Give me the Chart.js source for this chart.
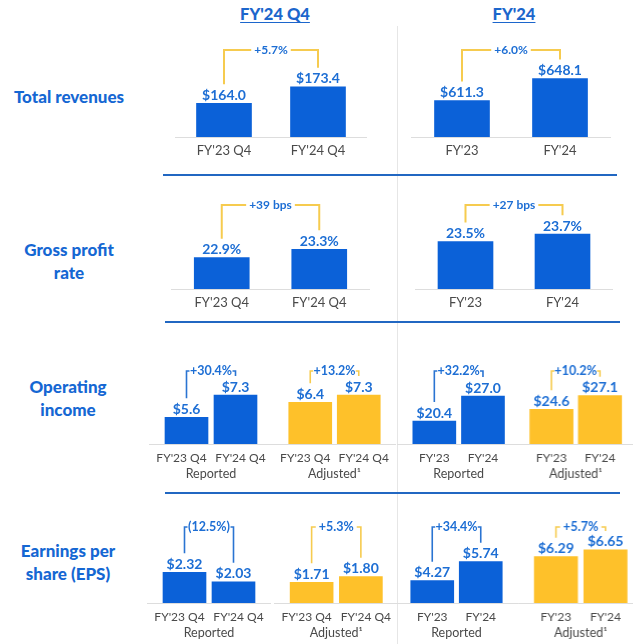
<!DOCTYPE html>
<html>
<head>
<meta charset="utf-8">
<script src="https://cdn.jsdelivr.net/npm/chart.js@4.4.1/dist/chart.umd.min.js"></script>
<style>
  html,body{margin:0;padding:0;background:#fff;}
  body{width:633px;height:644px;position:relative;overflow:hidden;font-family:Lato,"Open Sans",sans-serif;}
  .hdr{position:absolute;top:4px;color:#1c66cc;font-weight:900;font-size:16.5px;text-decoration:underline;text-underline-offset:2px;transform:translateX(-50%);white-space:nowrap;}
  .rowlbl{position:absolute;color:#1567d3;font-weight:900;font-size:17px;line-height:23px;text-align:center;transform:translate(-50%,-50%);white-space:pre;}
  .sep{position:absolute;height:2px;background:#2167c2;}
  .vdiv{position:absolute;left:397px;top:26px;width:1px;height:618px;background:#e6e6e6;}
  .panel{position:absolute;}
</style>
</head>
<body>
<div class="vdiv"></div>
<script>
// ---------------- DATA ----------------
const periodHeaders = ["FY'24 Q4", "FY'24"];
const metricLabels = ["Total revenues", "Gross profit\nrate", "Operating\nincome", "Earnings per\nshare (EPS)"];
const quarterCats = ["FY'23 Q4", "FY'24 Q4"];
const yearCats = ["FY'23", "FY'24"];
const groupLabels = ["Reported", "Adjusted\u00B9"];

const revenueQ4 = [164.0, 173.4];
const revenueFY = [611.3, 648.1];
const grossRateQ4 = [22.9, 23.3];
const grossRateFY = [23.5, 23.7];
const opIncomeQ4Reported = [5.6, 7.3];
const opIncomeQ4Adjusted = [6.4, 7.3];
const opIncomeFYReported = [20.4, 27.0];
const opIncomeFYAdjusted = [24.6, 27.1];
const epsQ4Reported = [2.32, 2.03];
const epsQ4Adjusted = [1.71, 1.80];
const epsFYReported = [4.27, 5.74];
const epsFYAdjusted = [6.29, 6.65];

const revenueChange = ["+5.7%", "+6.0%"];
const grossRateChange = ["+39 bps", "+27 bps"];
const opIncomeChange = ["+30.4%", "+13.2%", "+32.2%", "+10.2%"];
const epsChange = ["(12.5%)", "+5.3%", "+34.4%", "+5.7%"];

// ---------------- STYLE / LAYOUT ----------------
const BLUE = "#0b61d8", YELLOW = "#fec12a";
const LABEL_BLUE = "#1d6ed4", BRACKET_YELLOW = "#f6cb4f", BRACKET_BLUE = "#2a74d2";
const GREY_TEXT = "#4a4a4a";
const FONT = "Lato, 'Open Sans', sans-serif";

const fmt1$ = v => "$" + v.toFixed(1);
const fmt2$ = v => "$" + v.toFixed(2);
const fmtPct = v => v.toFixed(1) + "%";

const rows = [
  {base:137, bracketY:50,  bw:55, catFont:13, chgFont:12,   ext:2,  lw:2},
  {base:289, bracketY:205, bw:55, catFont:13, chgFont:12,   ext:2,  lw:2},
  {base:444, bracketY:371, bw:43, catFont:12, chgFont:12.5, ext:13, lw:1.6},
  {base:603, bracketY:527, bw:43, catFont:12, chgFont:12.5, ext:13, lw:1.6}
];

const panels = [
  {row:0, x0:176.5, x1:364.5, min:145,   max:201.5, values:revenueQ4, cats:quarterCats, change:revenueChange[0], fmt:fmt1$, color:BLUE, bracket:BRACKET_YELLOW},
  {row:0, x0:412.5, x1:608.5, min:550,   max:718,   values:revenueFY, cats:yearCats, change:revenueChange[1], fmt:fmt1$, color:BLUE, bracket:BRACKET_YELLOW},
  {row:1, x0:173.3, x1:368.3, min:21.41, max:26.17, values:grossRateQ4, cats:quarterCats, change:grossRateChange[0], fmt:fmtPct, color:BLUE, bracket:BRACKET_YELLOW},
  {row:1, x0:417,   x1:611,   min:22.22, max:24.92, values:grossRateFY, cats:yearCats, change:grossRateChange[1], fmt:fmtPct, color:BLUE, bracket:BRACKET_YELLOW},
  {row:2, x0:161.8, x1:259.8, min:3.57,  max:11.19, values:opIncomeQ4Reported, cats:quarterCats, change:opIncomeChange[0], fmt:fmt1$, color:BLUE, bracket:BRACKET_BLUE, group:groupLabels[0], spread:5},
  {row:2, x0:286,   x1:383,   min:1.26,  max:13.59, values:opIncomeQ4Adjusted, cats:quarterCats, change:opIncomeChange[1], fmt:fmt1$, color:YELLOW, bracket:BRACKET_YELLOW, group:groupLabels[1], spread:5},
  {row:2, x0:409.5, x1:506.8, min:14.33, max:40.73, values:opIncomeFYReported, cats:yearCats, change:opIncomeChange[2], fmt:fmt1$, color:BLUE, bracket:BRACKET_BLUE, group:groupLabels[0]},
  {row:2, x0:527.2, x1:623.6, min:18.22, max:36.6,  values:opIncomeFYAdjusted, cats:yearCats, change:opIncomeChange[3], fmt:fmt1$, color:YELLOW, bracket:BRACKET_YELLOW, group:groupLabels[1]},
  {row:3, x0:159.5, x1:257.5, min:1.373, max:4.459, values:epsQ4Reported, cats:quarterCats, change:epsChange[0], fmt:fmt2$, color:BLUE, bracket:BRACKET_BLUE, group:groupLabels[0], spread:5},
  {row:3, x0:286.5, x1:385,   min:1.377, max:2.984, values:epsQ4Adjusted, cats:quarterCats, change:epsChange[1], fmt:fmt2$, color:YELLOW, bracket:BRACKET_YELLOW, group:groupLabels[1], spread:5},
  {row:3, x0:407.8, x1:504.8, min:2.545, max:10.28, values:epsFYReported, cats:yearCats, change:epsChange[2], fmt:fmt2$, color:BLUE, bracket:BRACKET_BLUE, group:groupLabels[0]},
  {row:3, x0:531.2, x1:629.6, min:3.80,  max:9.17,  values:epsFYAdjusted, cats:yearCats, change:epsChange[3], fmt:fmt2$, color:YELLOW, bracket:BRACKET_YELLOW, group:groupLabels[1]}
];

// ---------------- STATIC HTML TEXT ----------------
function addDiv(cls, text, css){
  const d = document.createElement("div");
  d.className = cls; d.textContent = text; d.style.cssText = css;
  document.body.appendChild(d); return d;
}
addDiv("hdr", periodHeaders[0], "left:275px;");
addDiv("hdr", periodHeaders[1], "left:514px;");
const rowLabelPos = [[69,96],[69,261],[68,398],[68,562]];
metricLabels.forEach((t,i)=>addDiv("rowlbl", t, `left:${rowLabelPos[i][0]}px;top:${rowLabelPos[i][1]}px;`));
addDiv("sep", "", "left:163px;top:174px;width:454px;");
addDiv("sep", "", "left:165px;top:321px;width:455px;");
addDiv("sep", "", "left:165px;top:492px;width:455px;");

// ---------------- CHARTS ----------------
const H = 100, PADX = 30, PADT = 8, PADB = 42;

function panelPlugin(p, r, top){
  return {
    id: "panelDeco",
    afterDatasetsDraw(chart){
      const ctx = chart.ctx, ca = chart.chartArea;
      const bars = chart.getDatasetMeta(0).data;
      ctx.save();
      // baseline
      ctx.strokeStyle = "#dddddd"; ctx.lineWidth = 1.2;
      ctx.beginPath();
      ctx.moveTo(ca.left - r.ext, ca.bottom + 0.5);
      ctx.lineTo(ca.right + r.ext, ca.bottom + 0.5);
      ctx.stroke();
      // value labels
      ctx.fillStyle = LABEL_BLUE;
      ctx.font = "700 14px " + FONT;
      ctx.textAlign = "center"; ctx.textBaseline = "middle";
      const labelY = [];
      bars.forEach((b,i)=>{
        const y = b.y - 8;
        labelY.push(y);
        ctx.fillText(p.fmt(p.values[i]), b.x, y);
      });
      // bracket
      const by = r.bracketY - top;
      const xL = bars[0].x, xR = bars[1].x, xm = (xL + xR) / 2;
      ctx.font = "700 " + r.chgFont + "px " + FONT;
      const tw = ctx.measureText(p.change).width;
      ctx.strokeStyle = p.bracket; ctx.lineWidth = r.lw; ctx.lineJoin = "miter";
      const gap = Math.min(tw/2 + 3, (xR - xL)/2 - 3);
      ctx.beginPath();
      ctx.moveTo(xL, labelY[0] - 11);
      ctx.lineTo(xL, by);
      ctx.lineTo(xm - gap, by);
      ctx.moveTo(xm + gap, by);
      ctx.lineTo(xR, by);
      ctx.lineTo(xR, labelY[1] - 11);
      ctx.stroke();
      ctx.fillStyle = LABEL_BLUE;
      ctx.fillText(p.change, xm, by);
      // category labels
      ctx.fillStyle = GREY_TEXT;
      ctx.font = "400 " + r.catFont + "px " + FONT;
      const sp = p.spread || 0;
      bars.forEach((b,i)=>{
        ctx.fillText(p.cats[i], b.x + (i === 0 ? -sp : sp), ca.bottom + 14);
      });
      if (p.group){
        ctx.font = "400 12.5px " + FONT;
        ctx.fillText(p.group, xm, ca.bottom + 30);
      }
      ctx.restore();
    }
  };
}

panels.forEach(p=>{
  const r = rows[p.row];
  const left = p.x0 - PADX, top = r.base - H - PADT;
  const w = (p.x1 - p.x0) + 2*PADX, h = H + PADT + PADB;
  const wrap = document.createElement("div");
  wrap.className = "panel";
  wrap.style.cssText = `left:${left}px;top:${top}px;width:${w}px;height:${h}px;`;
  const cv = document.createElement("canvas");
  wrap.appendChild(cv);
  document.body.appendChild(wrap);
  new Chart(cv, {
    type: "bar",
    data: {
      labels: p.cats,
      datasets: [{data: p.values, backgroundColor: p.color, borderWidth: 0, barThickness: r.bw}]
    },
    options: {
      responsive: true, maintainAspectRatio: false, animation: false, events: [],
      layout: {padding: {left: PADX, right: PADX, top: PADT, bottom: PADB}},
      scales: {
        x: {display: false},
        y: {display: false, min: p.min, max: p.max}
      },
      plugins: {legend: {display: false}, tooltip: {enabled: false}}
    },
    plugins: [panelPlugin(p, r, top)]
  });
});
</script>
</body>
</html>
